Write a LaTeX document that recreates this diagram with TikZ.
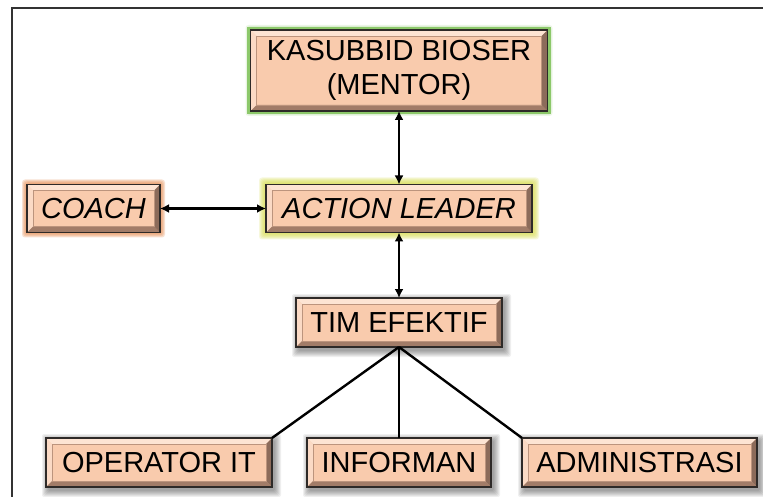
\documentclass[tikz,border=0pt]{standalone}
\usepackage{fontspec}
\setmainfont{Liberation Sans}
\usetikzlibrary{arrows.meta}
\pgfdeclarelayer{bg}
\pgfsetlayers{bg,main}

\definecolor{peach}{HTML}{F9CBAD}
\definecolor{bevtop}{HTML}{FDE4D3}
\definecolor{bevleft}{HTML}{FBDAC5}
\definecolor{bevbot}{HTML}{A27C68}
\definecolor{bevright}{HTML}{8C6B5A}
\definecolor{boxline}{HTML}{2E2A28}
\definecolor{glowor}{HTML}{E8955E}
\definecolor{glowye}{HTML}{D8DC50}
\definecolor{glowgr}{HTML}{8CC86A}
\definecolor{framec}{HTML}{333333}

\tikzset{
  bevbox/.style={draw=boxline, line width=1.3pt, fill=peach, inner sep=0pt,
    outer sep=0pt, font=\fontsize{29}{34}\selectfont, align=center,
    path picture={
      \coordinate (pA) at (path picture bounding box.north west);
      \coordinate (pB) at (path picture bounding box.north east);
      \coordinate (pC) at (path picture bounding box.south east);
      \coordinate (pD) at (path picture bounding box.south west);
      \coordinate (qA) at ([shift={(6pt,-6pt)}]pA);
      \coordinate (qB) at ([shift={(-6pt,-6pt)}]pB);
      \coordinate (qC) at ([shift={(-6pt,6pt)}]pC);
      \coordinate (qD) at ([shift={(6pt,6pt)}]pD);
      \fill[bevtop] (pA) -- (pB) -- (qB) -- (qA) -- cycle;
      \fill[bevleft] (pA) -- (qA) -- (qD) -- (pD) -- cycle;
      \fill[bevbot] (pD) -- (qD) -- (qC) -- (pC) -- cycle;
      \fill[bevright] (pB) -- (pC) -- (qC) -- (qB) -- cycle;
      \draw[bevbot!70!peach, line width=0.6pt] (qA) rectangle (qC);
    }},
  link/.style={line width=2.4pt, black},
  dlink/.style={link, {Latex[length=9pt,width=9pt]}-{Latex[length=9pt,width=9pt]}},
}

% soft drop shadow behind a node
\newcommand\softshade[1]{%
  \foreach \i in {0,...,6}{%
    \fill[black, opacity=0.06, rounded corners=2pt]
      ([shift={({(2-\i)*1pt},{(-2+\i)*1pt})}]#1.north west) rectangle
      ([shift={({(3+\i)*1pt},{(-4-\i)*1pt})}]#1.south east);}}

% coloured halo around a node
\newcommand\haloglow[4]{%
  \foreach \i in {1,...,#3}{%
    \fill[#2, opacity=#4, rounded corners=3pt]
      ([shift={({-\i*1pt},{\i*1pt})}]#1.north west) rectangle
      ([shift={({\i*1pt},{-\i*1pt})}]#1.south east);}}

\begin{document}
\begin{tikzpicture}[x=1pt,y=-1pt]
  \useasboundingbox (0,0) rectangle (763,497);

  % outer frame
  \draw[framec, line width=1.8pt] (12,497) -- (12,8) -- (763,8);

  % boxes
  \node[bevbox, minimum width=297pt, minimum height=81pt] (kas) at (399,70.5)
    {KASUBBID BIOSER\\(MENTOR)};
  \node[bevbox, minimum width=133pt, minimum height=48pt] (coach) at (93.5,208.5)
    {\itshape COACH};
  \node[bevbox, minimum width=266pt, minimum height=48pt] (act) at (399,208.5)
    {\itshape ACTION LEADER};
  \node[bevbox, minimum width=206pt, minimum height=49pt] (tim) at (399,322.5)
    {TIM EFEKTIF};
  \node[bevbox, minimum width=226pt, minimum height=49pt] (op) at (159,462.5)
    {OPERATOR IT};
  \node[bevbox, minimum width=184pt, minimum height=49pt] (inf) at (399,462.5)
    {INFORMAN};
  \node[bevbox, minimum width=235pt, minimum height=49pt] (adm) at (639.5,462.5)
    {ADMINISTRASI};

  % page, shadows and halos
  \begin{pgfonlayer}{bg}
    \fill[white] (0,0) rectangle (763,497);
    \haloglow{kas}{glowgr}{5}{0.15}
    \draw[glowgr, line width=2.5pt]
      ([shift={(-2pt,2pt)}]kas.north west) rectangle ([shift={(2pt,-2pt)}]kas.south east);
    \haloglow{coach}{glowor}{5}{0.28}
    \haloglow{act}{glowye}{7}{0.2}
    \softshade{tim}
    \softshade{op}
    \softshade{inf}
    \softshade{adm}
  \end{pgfonlayer}

  % connectors
  \draw[dlink] (kas.south) -- (act.north);
  \draw[dlink] (coach.east) -- (act.west);
  \draw[dlink] (act.south) -- (tim.north);
  \draw[link] (tim.south) -- (op.north east);
  \draw[link] (tim.south) -- (inf.north);
  \draw[link] (tim.south) -- (adm.north west);
\end{tikzpicture}
\end{document}
